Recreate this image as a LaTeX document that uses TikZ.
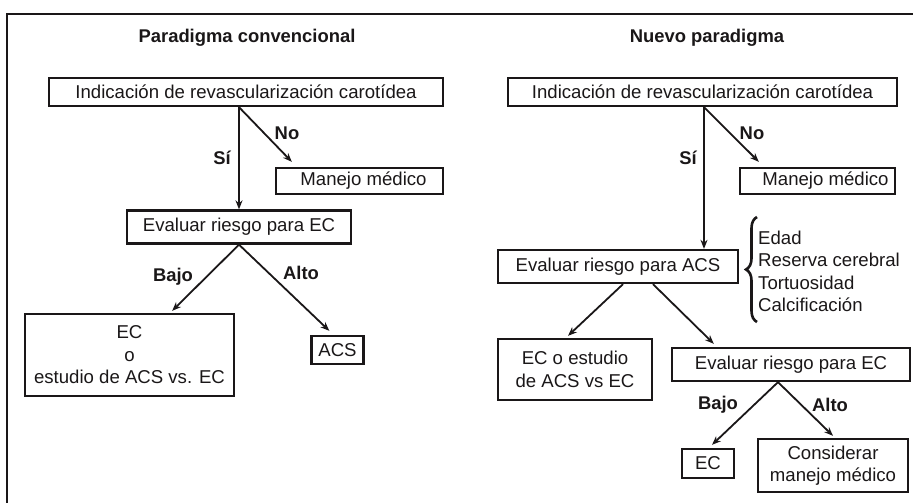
\documentclass[tikz,border=0pt]{standalone}
\usepackage{fontspec}
\setmainfont{Liberation Sans}
\usetikzlibrary{arrows.meta,decorations.pathreplacing}
\definecolor{ink}{HTML}{1A1718}
\begin{document}
\begin{tikzpicture}[x=1pt,y=-1pt,
  every node/.style={text=ink,font=\fontsize{18.6}{22.5}\selectfont,inner sep=0pt},
  boxnode/.style={draw=ink,line width=2.3pt,align=center},
  title/.style={font=\fontsize{18.4}{22.5}\selectfont\bfseries},
  lbl/.style={font=\fontsize{18.4}{22.5}\selectfont\bfseries},
  arr/.style={draw=ink,line width=1.8pt,-{Stealth[length=9pt,width=7pt]}}]
\useasboundingbox (0,0) rectangle (913,503);
% frame
\draw[ink,line width=2.4pt] (7,503) -- (7,14) -- (913,14);

% ---------- left panel ----------
\node[title] (t1) at (247,38) {Paradigma convencional};
\node[boxnode,minimum width=394pt,minimum height=28pt] (a1) at (246,92) {Indicación de revascularización carotídea};
\node[boxnode,minimum width=167pt,minimum height=26pt] (a2) at (359.5,181) {\hspace*{8pt}Manejo médico};
\node[boxnode,minimum width=224pt,minimum height=33pt] (a3) at (239,227) {Evaluar riesgo para EC};
\node[boxnode,minimum width=209pt,minimum height=82pt] (a4) at (129.5,355) {EC\\o\\estudio de ACS vs. EC};
\node[boxnode,minimum width=52pt,minimum height=28pt] (a5) at (337.5,350) {ACS};

\coordinate (a1s) at (a1.south -| a3.north);
\draw[arr] (a1s) -- (a3.north);
\draw[arr] (a1s) -- ([xshift=17pt,yshift=5pt]a2.north west);
\draw[arr] (a3.south) -- ([xshift=-63pt,yshift=2pt]a4.north east);
\draw[arr] (a3.south) -- ([xshift=19pt,yshift=4pt]a5.north west);

\node[lbl] (s1) at (222,158) {Sí};
\node[lbl] (n1) at (287,133) {No};
\node[lbl] (lb1) at (173,277) {Bajo};
\node[lbl] (la1) at (301,273) {Alto};

% ---------- right panel ----------
\node[title] (t2) at (707,38) {Nuevo paradigma};
\node[boxnode,minimum width=389pt,minimum height=28pt] (b1) at (702.5,92) {Indicación de revascularización carotídea};
\node[boxnode,minimum width=155pt,minimum height=26pt] (b2) at (817.5,181) {\hspace*{16pt}Manejo médico};
\node[boxnode,minimum width=240pt,minimum height=33pt] (b3) at (618,266.5) {Evaluar riesgo para ACS};
\node[boxnode,minimum width=154pt,minimum height=61pt] (b4) at (575,369.5) {EC o estudio\\de ACS vs EC};
\node[boxnode,minimum width=238pt,minimum height=33pt] (b5) at (791,364.5) {Evaluar riesgo para EC};
\node[boxnode,minimum width=52pt,minimum height=29pt] (b6) at (708,463.5) {EC};
\node[boxnode,minimum width=150pt,minimum height=53pt] (b7) at (833,465.5) {Considerar\\manejo médico};

\coordinate (b1s) at ([xshift=1.5pt]b1.south);
\draw[arr] (b1s) -- (b1s |- b3.north);
\draw[arr] (b1s) -- ([xshift=20pt,yshift=5pt]b2.north west);
\draw[arr] ([xshift=5pt]b3.south) -- ([xshift=-7pt,yshift=2pt]b4.north);
\draw[arr] ([xshift=35pt]b3.south) -- ([xshift=43pt,yshift=3pt]b5.north west);
\draw[arr] ([xshift=-13pt]b5.south) -- ([xshift=4pt,yshift=3pt]b6.north);
\draw[arr] ([xshift=-13pt]b5.south) -- ([yshift=2pt]b7.north);

\node[lbl] (s2) at (688,158) {Sí};
\node[lbl] (n2) at (752,133) {No};
\node[lbl] (lb2) at (718,405) {Bajo};
\node[lbl] (la2) at (830,405) {Alto};

% brace and factors
\coordinate (brb) at (757,322);
\coordinate (brt) at (757,217);
\draw[ink,line width=2.6pt,decorate,decoration={brace,amplitude=11pt}] (brb) -- (brt);
\node[anchor=west,align=left] (fac) at (758,271.5) {Edad\\Reserva cerebral\\Tortuosidad\\Calcificación};
\end{tikzpicture}
\end{document}
